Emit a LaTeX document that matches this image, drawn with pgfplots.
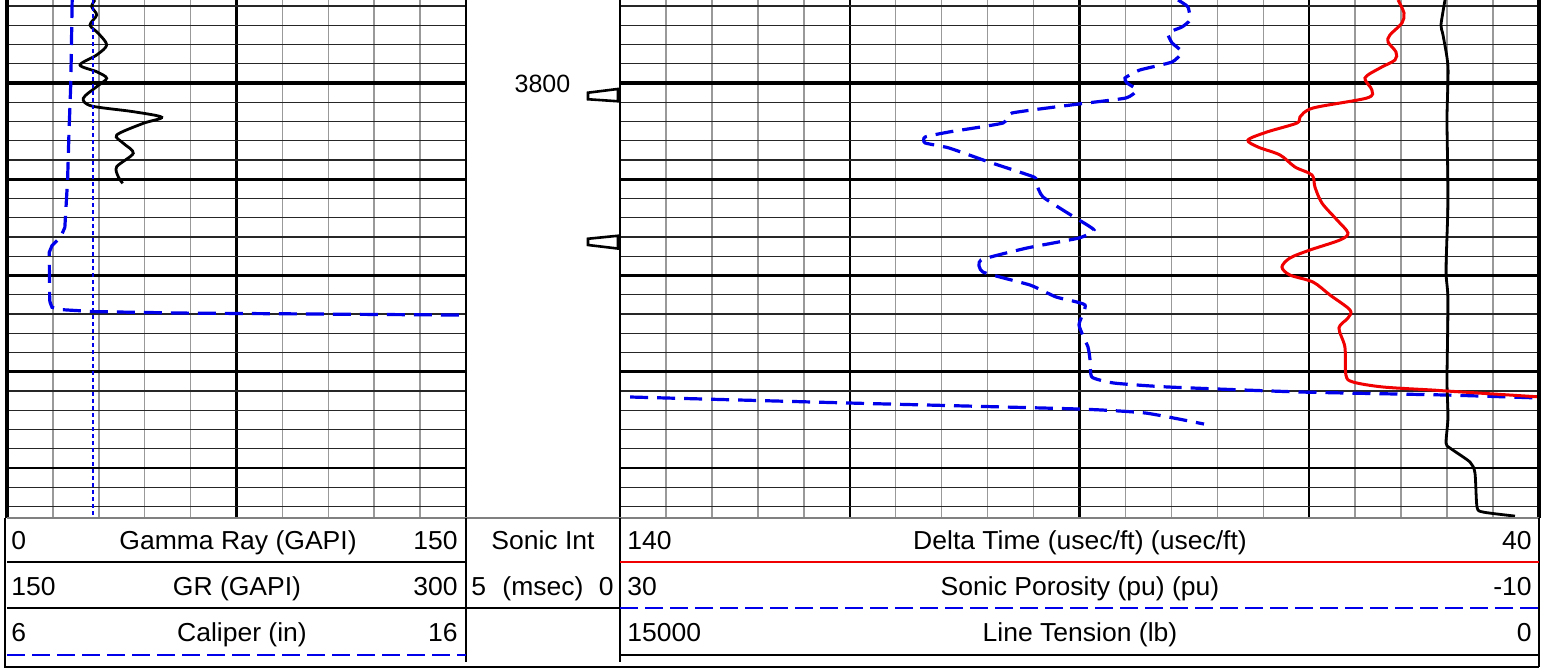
\documentclass[border=0pt]{standalone}
\usepackage{fontspec}
\setmainfont{Liberation Sans}
\usepackage{pgfplots}
\pgfplotsset{compat=1.18}

\definecolor{logblue}{RGB}{0,0,235}
\definecolor{logred}{RGB}{240,0,0}

% one depth track: 1px of the log = 0.5pt
\pgfplotsset{
  trk/.style={scale only axis, height=259pt, anchor=north west,
    ymin=3791.38, ymax=3845.19, y dir=reverse,
    axis line style={draw=none}, tick style={draw=none},
    xticklabels={}, yticklabels={}},
  gridy/.style={ytick={3810,3820,3830,3840}, minor ytick={3792,3794,...,3844},
    grid=both,
    major x grid style={black, line width=1.2pt},
    minor x grid style={gray!80, line width=0.75pt},
    major y grid style={black, line width=1.3pt},
    minor y grid style={black!85, line width=0.65pt}},
  dashblue/.style={logblue, line width=1.6pt, dash pattern=on 9pt off 4.5pt},
}

\begin{document}
\begin{tikzpicture}
\useasboundingbox (0,0) rectangle (776.5pt,-334.5pt);

% ---------- left track: Gamma Ray 0-150
\begin{axis}[trk, gridy, at={(3.5pt,0pt)}, width=229.5pt, xmin=0, xmax=150,
  xtick={75}, minor xtick={15,30,45,60,90,105,120,135}]
\draw[black, line width=1.9pt] (axis cs:0,3800) -- (axis cs:150,3800);
\addplot[black, line width=1.4pt, smooth, tension=0.5] coordinates {
 (28.76,3791.38) (27.68,3792.07) (29.31,3792.94) (27.12,3793.97) (29.84,3794.84)
 (32.58,3796.05) (29.31,3797.09) (23.86,3798.13) (29.31,3798.83) (32.58,3799.51)
 (29.31,3800.38) (24.93,3801.59) (27.68,3802.39) (41.27,3802.98) (50.56,3803.56)
 (44.54,3804.19) (35.85,3805.40) (38.01,3806.26) (41.27,3807.30) (35.85,3808.70)
 (36.37,3809.74) (37.81,3810.42)};
\end{axis}

% caliper 6-16 and bit size
\begin{axis}[trk, hide axis, at={(3.5pt,0pt)}, width=229.5pt, xmin=6, xmax=16]
\addplot[logblue, line width=0.9pt, dash pattern=on 2pt off 1.5pt] coordinates {
 (7.875,3791.38) (7.875,3845.19)};
\addplot[dashblue] coordinates {
 (7.42,3791.38) (7.39,3800.0) (7.35,3805.19) (7.32,3810.08) (7.26,3815.0)
 (7.17,3816.0) (6.98,3816.9) (6.92,3817.6) (6.93,3822.55) (6.94,3822.8)
 (6.98,3823.3) (7.20,3823.55) (7.90,3823.75) (9.80,3823.90) (16.2,3824.12)};
\end{axis}

% ---------- depth track
\begin{axis}[trk, hide axis, at={(233pt,0pt)}, width=77pt, xmin=466, xmax=620]
\addplot[black, line width=1.3pt, fill=white] coordinates {
 (618,3800.62) (588,3801.01) (588,3801.69) (618,3801.90)} -- cycle;
\addplot[black, line width=1.3pt, fill=white] coordinates {
 (618,3815.87) (588,3816.18) (588,3816.83) (618,3817.20)} -- cycle;
\end{axis}
\node[anchor=base, inner sep=0pt, font=\fontsize{12.5}{15}\selectfont] at (271.25pt,-46.3pt) {3800};

% ---------- right track grid (Delta Time 140-40)
\begin{axis}[trk, gridy, at={(310pt,0pt)}, width=459.5pt, xmin=40, xmax=140, x dir=reverse,
  xtick={65,90,115},
  minor xtick={45,50,55,60,70,75,80,85,95,100,105,110,120,125,130,135}]
\draw[black, line width=1.9pt] (axis cs:40,3800) -- (axis cs:140,3800);
\end{axis}

% sonic porosity 30 to -10
\begin{axis}[trk, hide axis, at={(310pt,0pt)}, width=459.5pt, xmin=-10, xmax=30, x dir=reverse]
\addplot[dashblue, smooth, tension=0.3] coordinates {
 (5.71,3791.38) (5.28,3792.10) (5.19,3793.45) (5.54,3794.18) (6.15,3794.81)
 (5.97,3795.84) (5.54,3796.78) (5.97,3797.82) (7.37,3798.65) (8.02,3799.48)
 (7.93,3800.00) (7.50,3800.73) (7.98,3801.56) (10.02,3802.18) (12.94,3803.12)
 (13.33,3804.16) (15.68,3805.09) (16.72,3805.61) (16.72,3806.23) (15.68,3806.75)
 (13.94,3808.21) (11.98,3809.77) (11.89,3810.39) (11.59,3811.84) (10.24,3813.92)
 (9.37,3815.27) (10.02,3816.10) (12.28,3817.14) (14.29,3818.39) (14.20,3819.64)
 (12.15,3820.99) (11.02,3822.23) (9.76,3823.06) (10.02,3825.14) (9.63,3827.43)
 (9.54,3828.78) (9.46,3830.55) (8.50,3831.17) (6.15,3831.58) (0.40,3832.10)
 (-6.04,3832.42) (-10.10,3832.73)};
\addplot[dashblue, smooth, tension=0.3] coordinates {
 (29.56,3832.62) (19.95,3833.25) (10.02,3833.87) (7.11,3834.29) (4.58,3835.43)};
\end{axis}

% line tension 15000 to 0
\begin{axis}[trk, hide axis, at={(310pt,0pt)}, width=459.5pt, xmin=0, xmax=15000, x dir=reverse]
\addplot[black, line width=1.4pt, smooth, tension=0.4] coordinates {
 (1534,3791.38) (1600,3793.97) (1567,3795.01) (1485,3798.34) (1502,3803.84)
 (1485,3812.16) (1518,3819.43) (1485,3822.55) (1502,3830.86) (1485,3834.70)
 (1518,3837.40) (1453,3837.92) (1126,3839.38) (1045,3840.52) (1012,3844.05)
 (914,3844.57) (392,3844.99)};
\end{axis}

% delta time 140 to 40
\begin{axis}[trk, hide axis, at={(310pt,0pt)}, width=459.5pt, xmin=40, xmax=140, x dir=reverse]
\addplot[logred, line width=1.5pt, smooth, tension=0.5] coordinates {
 (55.34,3791.38) (54.69,3792.73) (54.91,3793.77) (56.22,3795.01) (56.43,3795.74)
 (55.56,3796.78) (55.67,3797.61) (57.30,3798.44) (58.94,3799.48) (58.18,3800.73)
 (58.72,3801.56) (64.59,3802.60) (66.01,3803.53) (66.34,3804.16) (69.60,3805.09)
 (71.67,3805.92) (70.58,3806.65) (68.18,3807.48) (66.55,3808.73) (64.70,3809.56)
 (64.38,3810.81) (63.62,3812.47) (61.98,3814.23) (60.79,3815.58) (61.66,3816.31)
 (64.92,3817.35) (67.10,3818.18) (67.97,3819.12) (67.10,3819.95) (64.59,3820.68)
 (62.74,3822.03) (60.56,3823.58) (60.79,3824.42) (61.77,3825.45) (61.12,3827.43)
 (61.01,3830.34) (60.25,3831.06) (56.98,3831.58) (51.54,3831.90) (50.01,3832.00)
 (39.80,3832.62)};
\end{axis}

% ---------- track borders
\draw[black, line width=1.7pt] (3.5pt,0pt) -- (3.5pt,-259pt);
\draw[black, line width=1.4pt] (233pt,0pt) -- (233pt,-259pt);
\draw[black, line width=1.4pt] (310pt,0pt) -- (310pt,-259pt);
\draw[black, line width=1.8pt] (769.5pt,0pt) -- (769.5pt,-259pt);
\draw[gray, line width=0.8pt] (3.5pt,-259pt) -- (769.5pt,-259pt);

% ---------- header
\draw[black, line width=0.6pt] (2.5pt,-259pt) -- (2.5pt,-333.5pt) -- (769.5pt,-333.5pt);
\draw[black, line width=1.3pt] (769.5pt,-259pt) -- (769.5pt,-333.5pt);
\draw[black, line width=0.6pt] (233pt,-259pt) -- (233pt,-331pt);
\draw[black, line width=0.6pt] (310pt,-259pt) -- (310pt,-331pt);
\draw[black, line width=1.2pt] (3.5pt,-281pt) -- (233pt,-281pt);
\draw[black, line width=1.2pt] (3.5pt,-304pt) -- (310pt,-304pt);
\draw[logblue, line width=1.3pt, dash pattern=on 9pt off 3.5pt] (3.5pt,-327.5pt) -- (233pt,-327.5pt);
\draw[logred, line width=1.2pt] (310pt,-281pt) -- (769.5pt,-281pt);
\draw[logblue, line width=1.3pt, dash pattern=on 9pt off 3.5pt] (310pt,-304pt) -- (769.5pt,-304pt);
\draw[black, line width=1.3pt] (310pt,-327.5pt) -- (769.5pt,-327.5pt);

\begin{scope}[every node/.style={font=\fontsize{13}{15}\selectfont, inner sep=0pt, xscale=1.02}]
\node[anchor=base west] at (5.5pt,-274.6pt) {0};
\node[anchor=base] at (119pt,-274.6pt) {Gamma Ray (GAPI)};
\node[anchor=base east] at (229pt,-274.6pt) {150};
\node[anchor=base west] at (5.5pt,-297.6pt) {150};
\node[anchor=base] at (118.5pt,-297.6pt) {GR (GAPI)};
\node[anchor=base east] at (229pt,-297.6pt) {300};
\node[anchor=base west] at (5.5pt,-320.5pt) {6};
\node[anchor=base] at (121pt,-320.5pt) {Caliper (in)};
\node[anchor=base east] at (229pt,-320.5pt) {16};

\node[anchor=base] at (271.5pt,-274.6pt) {Sonic Int};
\node[anchor=base west] at (235.5pt,-297.6pt) {5};
\node[anchor=base] at (271.5pt,-297.6pt) {(msec)};
\node[anchor=base east] at (307pt,-297.6pt) {0};

\node[anchor=base west] at (313.5pt,-274.6pt) {140};
\node[anchor=base] at (540pt,-274.6pt) {Delta Time (usec/ft) (usec/ft)};
\node[anchor=base east] at (766pt,-274.6pt) {40};
\node[anchor=base west] at (313.5pt,-297.6pt) {30};
\node[anchor=base] at (540pt,-297.6pt) {Sonic Porosity (pu) (pu)};
\node[anchor=base east] at (766pt,-297.6pt) {-10};
\node[anchor=base west] at (313.5pt,-320.5pt) {15000};
\node[anchor=base] at (540pt,-320.5pt) {Line Tension (lb)};
\node[anchor=base east] at (766pt,-320.5pt) {0};
\end{scope}
\end{tikzpicture}
\end{document}
